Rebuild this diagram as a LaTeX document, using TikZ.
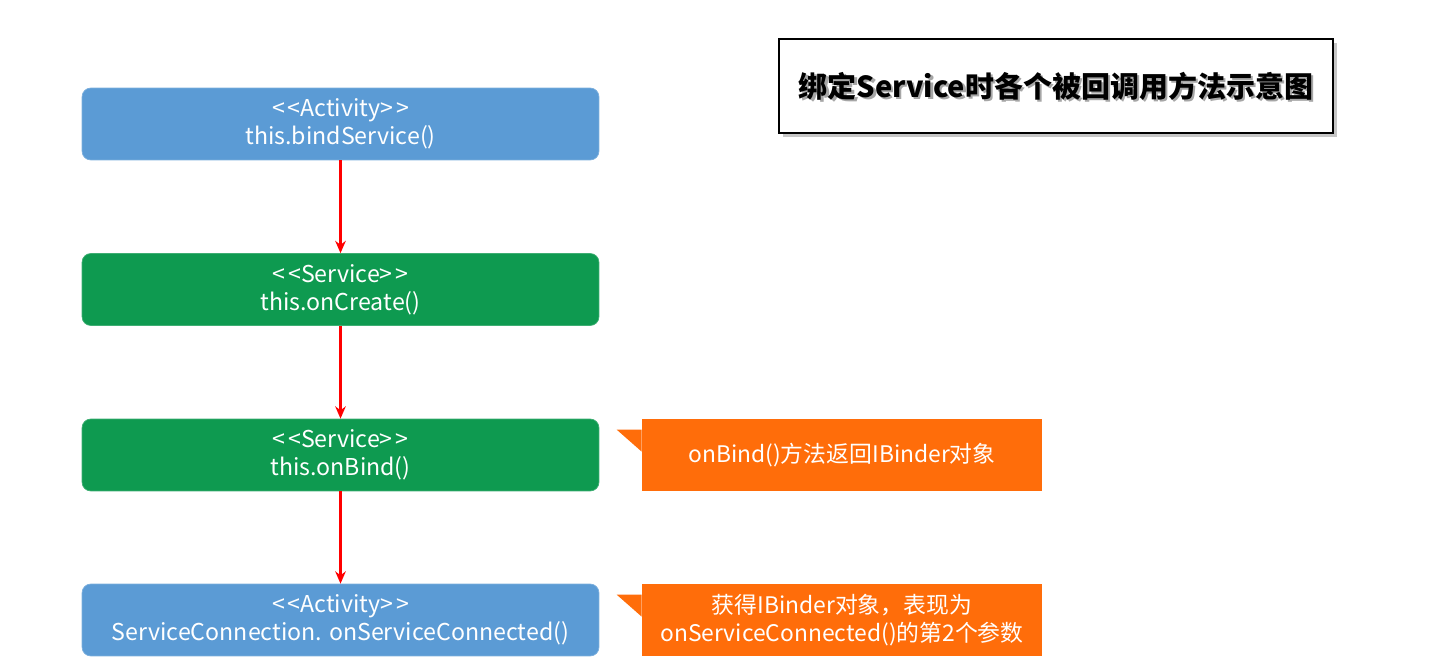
\documentclass[tikz,border=0pt]{standalone}
\usepackage{fontspec}
\setmainfont{Noto Sans CJK SC}
\usepackage{tikz}
\usetikzlibrary{arrows.meta,positioning,shadows,calc}
\definecolor{actblue}{HTML}{5B9BD5}
\definecolor{srvgreen}{HTML}{0E9A50}
\definecolor{noteorange}{HTML}{FF6D0A}
\newcommand{\stereo}[1]{{<}\kern1.5pt{<}#1{>}\kern1.5pt{>}}
\tikzstyle{block} = [rectangle, fill=actblue, draw=actblue!80!white, align=center,
                     rounded corners=5pt, minimum height=1.44cm, minimum width=10.34cm,
                     text=white, font=\fontsize{13.2}{16}\selectfont]
\tikzstyle{note} = [rectangle, fill=noteorange, align=center,
                    minimum height=1.44cm, minimum width=8cm,
                    text=white, font=\fontsize{13}{16}\selectfont]
\tikzstyle{arrow} = [-{Stealth[length=7pt,width=6pt]}, red, line width=1.4pt]

\begin{document}
\begin{tikzpicture}[x=0.02cm, y=-0.02cm]
    \useasboundingbox (0,0) rectangle (1444,666);
    \node [draw=black, line width=1.6pt, fill=white, minimum width=11.08cm, minimum height=1.88cm,
           drop shadow={opacity=0.45, shadow xshift=2.5pt, shadow yshift=-2.5pt},
           font=\fontsize{16.5}{20}\selectfont\bfseries] (title) at (1056,86) {};
    % soft shadow behind the title text
    \node [text=black!35, font=\fontsize{16.5}{20}\selectfont\bfseries] (titleshade)
          at ([xshift=1.2pt, yshift=-1.2pt]title.center) {绑定Service时各个被回调用方法示意图};
    \node [font=\fontsize{16.5}{20}\selectfont\bfseries] (titletext) at (title.center) {绑定Service时各个被回调用方法示意图};

    \node [block] (bind) at (340.5,124) {\stereo{Activity}\\this.bindService()};
    \node [block, fill=srvgreen, draw=srvgreen!80!white] (create) at (340.5,289.5) {\stereo{Service}\\this.onCreate()};
    \node [block, fill=srvgreen, draw=srvgreen!80!white] (onbind) at (340.5,455) {\stereo{Service}\\this.onBind()};
    \node [block] (conn) at (340.5,620) {\stereo{Activity}\\ServiceConnection. onServiceConnected()};

    \node [note] (bindnote) at (842,455) {onBind()方法返回IBinder对象};
    \node [note] (connnote) at (842,620) {获得IBinder对象，表现为\\onServiceConnected()的第2个参数};
    % callout pointers
    \fill [noteorange] (bindnote.north west) ++(0,11) -- ++(-25,0) -- ++(25,22) -- cycle;
    \fill [noteorange] (connnote.north west) ++(0,11) -- ++(-25,0) -- ++(25,22) -- cycle;

    \draw [arrow] (bind) -- (create);
    \draw [arrow] (create) -- (onbind);
    \draw [arrow] (onbind) -- (conn);
\end{tikzpicture}
\end{document}
